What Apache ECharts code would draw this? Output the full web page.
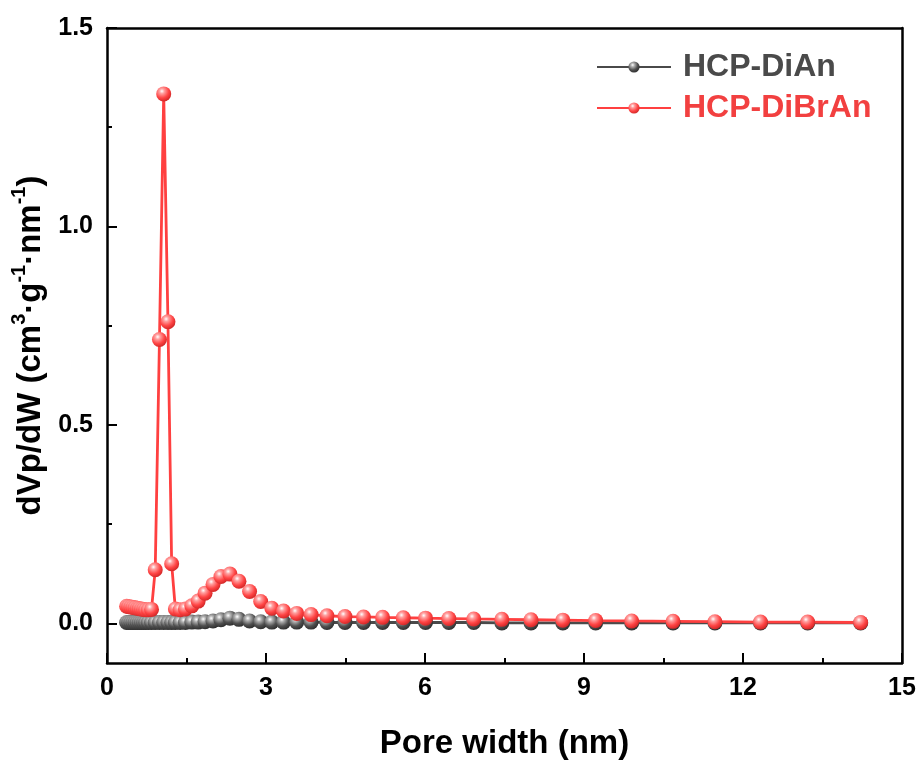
<!DOCTYPE html>
<html>
<head>
<meta charset="utf-8">
<script src="https://cdn.jsdelivr.net/npm/echarts@6/dist/echarts.min.js"></script>
<style>html,body{margin:0;padding:0;background:#fff;}#c{width:922px;height:765px;}</style>
</head>
<body>
<div id="c"></div>
<script>
// Pore width (nm), shared by both series
const poreWidth = [0.37,0.41,0.45,0.49,0.53,0.57,0.61,0.65,0.69,0.73,0.78,0.84,
  0.91,0.99,1.07,1.15,1.22,1.29,1.38,1.48,1.60,1.72,1.85,2.00,2.15,2.32,2.49,2.69,2.90,
  3.11,3.33,3.58,3.85,4.15,4.49,4.84,5.20,5.59,6.01,6.45,6.92,7.45,8.00,8.60,9.22,9.90,
  10.68,11.47,12.33,13.22,14.22];
const dianValues = [0.002,0.002,0.002,0.002,0.002,0.002,0.002,0.002,0.002,0.002,0.002,0.002,
  0.002,0.002,0.002,0.002,0.002,0.002,0.002,0.002,0.003,0.003,0.004,0.006,0.009,0.013,0.010,0.006,0.004,
  0.003,0.003,0.003,0.003,0.002,0.002,0.002,0.002,0.002,0.002,0.002,0.002,0.001,0.001,0.001,0.001,0.001,
  0.001,0.001,0.001,0.001,0.001];
const dibranValues = [0.043,0.042,0.041,0.040,0.039,0.038,0.037,0.036,0.035,0.034,0.034,0.035,
  0.135,0.715,1.334,0.760,0.150,0.036,0.034,0.036,0.044,0.056,0.076,0.098,0.118,0.124,0.106,0.080,0.055,
  0.038,0.031,0.025,0.022,0.019,0.017,0.016,0.015,0.014,0.013,0.012,0.011,0.010,0.009,0.008,0.007,0.006,
  0.005,0.004,0.003,0.003,0.002];
const seriesNames = ['HCP-DiAn','HCP-DiBrAn'];
const xTicks = [0,3,6,9,12,15];
const yTicks = [0,0.5,1.0,1.5];
const yMinorTicks = [0.25,0.75,1.25];

function sphere(base, dark, light){
  return {type:'radial', x:0.38, y:0.32, r:0.75, colorStops:[
    {offset:0, color:'#ffffff'},
    {offset:0.22, color:light},
    {offset:0.6, color:base},
    {offset:1, color:dark}
  ]};
}
const grayMarker = sphere('#505050','#262626','#b0b0b0');
const redMarker = sphere('#ff4545','#c82020','#ffa0a0');

const chart = echarts.init(document.getElementById('c'));
const fam = '"Liberation Sans", Arial, sans-serif';
const lineStyleAxis = {color:'#000', width:2.5};
chart.setOption({
  backgroundColor:'#fff',
  animation:false,
  grid:{left:107, right:20, top:28, bottom:99, containLabel:false},
  legend:{
    orient:'vertical', left:591, top:46, itemWidth:74, itemHeight:14, itemGap:9,
    data:[
      {name:seriesNames[0], textStyle:{color:'#4a4a4a'}},
      {name:seriesNames[1], textStyle:{color:'#f24040'}}
    ],
    textStyle:{fontFamily:fam, fontWeight:'bold', fontSize:32, lineHeight:32, padding:[0,0,0,7]}
  },
  xAxis:[{
    type:'value', position:'bottom', min:0, max:15, interval:3,
    axisLine:{show:true, onZero:false, lineStyle:lineStyleAxis},
    axisTick:{show:true, inside:true, length:10, lineStyle:{color:'#000', width:2}},
    minorTick:{show:true, splitNumber:2, length:5, lineStyle:{color:'#000', width:2}},
    splitLine:{show:false},
    axisLabel:{fontFamily:fam, fontWeight:'bold', fontSize:25, color:'#000', margin:13,
      customValues:xTicks},
    name:'Pore width (nm)', nameLocation:'middle', nameGap:64,
    nameTextStyle:{fontFamily:fam, fontWeight:'bold', fontSize:33, color:'#000'}
  },{
    type:'value', position:'top', min:0, max:15,
    axisLine:{show:true, onZero:false, lineStyle:lineStyleAxis},
    axisTick:{show:false}, axisLabel:{show:false}, splitLine:{show:false}
  }],
  yAxis:[{
    type:'value', position:'left', min:-0.1, max:1.5,
    axisLine:{show:true, onZero:false, lineStyle:lineStyleAxis},
    axisTick:{show:true, inside:true, length:10, customValues:yTicks, lineStyle:{color:'#000', width:2}},
    splitLine:{show:false},
    axisLabel:{fontFamily:fam, fontWeight:'bold', fontSize:25, color:'#000', margin:14,
      customValues:yTicks, formatter:v=>v.toFixed(1)},
    name:'{m|dVp/dW (cm}{s|3}{m|·g}{s|-1}{m|·nm}{s|-1}{m|)}', nameLocation:'middle', nameGap:56,
    nameTextStyle:{fontFamily:fam, fontWeight:'bold', fontSize:33, color:'#000',
      rich:{
        m:{fontFamily:fam, fontWeight:'bold', fontSize:33, color:'#000', lineHeight:38, verticalAlign:'bottom'},
        s:{fontFamily:fam, fontWeight:'bold', fontSize:20, color:'#000', lineHeight:38, verticalAlign:'top', padding:[0,0,14,0]}
      }}
  },{
    type:'value', position:'left', min:-0.1, max:1.5,
    axisLine:{show:false},
    axisTick:{show:true, inside:true, length:5, customValues:yMinorTicks, lineStyle:{color:'#000', width:2}},
    axisLabel:{show:false}, splitLine:{show:false}
  },{
    type:'value', position:'right', min:-0.1, max:1.5,
    axisLine:{show:true, onZero:false, lineStyle:lineStyleAxis},
    axisTick:{show:false}, axisLabel:{show:false}, splitLine:{show:false}
  }],
  series:[{
    name:seriesNames[0], type:'line', xAxisIndex:0, yAxisIndex:0,
    data:poreWidth.map((x,i)=>[x, dianValues[i]]),
    symbol:'circle', symbolSize:15, showAllSymbol:true,
    lineStyle:{color:'#4a4a4a', width:2.8},
    itemStyle:{color:grayMarker, borderWidth:0}
  },{
    name:seriesNames[1], type:'line', xAxisIndex:0, yAxisIndex:0,
    data:poreWidth.map((x,i)=>[x, dibranValues[i]]),
    symbol:'circle', symbolSize:15, showAllSymbol:true,
    lineStyle:{color:'#ff4040', width:2.8},
    itemStyle:{color:redMarker, borderWidth:0}
  }]
});
</script>
</body>
</html>
